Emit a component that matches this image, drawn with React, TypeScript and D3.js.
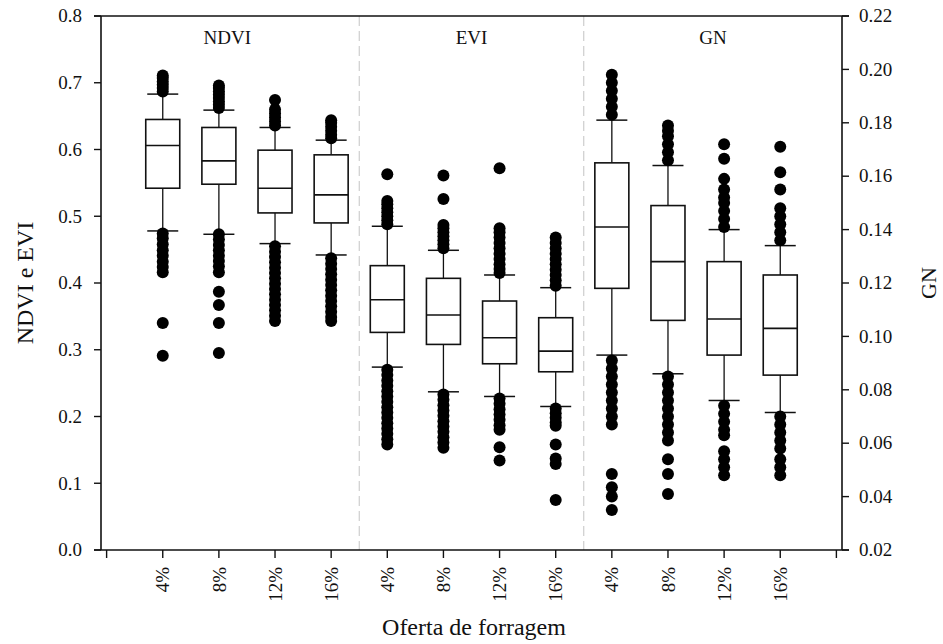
import React from "react";
import * as d3 from "d3";

// categories
const panels = ["NDVI", "EVI", "GN"];
const offers = ["4%", "8%", "12%", "16%"];
const leftTicks = [0, 0.1, 0.2, 0.3, 0.4, 0.5, 0.6, 0.7, 0.8];
const rightTicks = [0.02, 0.04, 0.06, 0.08, 0.1, 0.12, 0.14, 0.16, 0.18, 0.2, 0.22];

// [lower whisker, Q1, median, Q3, upper whisker] per offer
const ndviBox = [
  [0.478, 0.542, 0.606, 0.645, 0.683],
  [0.473, 0.548, 0.583, 0.633, 0.659],
  [0.459, 0.505, 0.542, 0.599, 0.633],
  [0.442, 0.49, 0.532, 0.592, 0.614],
];
const eviBox = [
  [0.274, 0.326, 0.375, 0.426, 0.485],
  [0.237, 0.308, 0.352, 0.407, 0.449],
  [0.23, 0.279, 0.318, 0.373, 0.412],
  [0.215, 0.267, 0.298, 0.348, 0.393],
];
const gnBox = [
  [0.093, 0.118, 0.141, 0.165, 0.181],
  [0.086, 0.106, 0.128, 0.149, 0.164],
  [0.076, 0.093, 0.1065, 0.128, 0.14],
  [0.0715, 0.0855, 0.103, 0.123, 0.134],
];

// outliers per offer
const ndviOut = [
  [0.687, 0.692, 0.697, 0.702, 0.707, 0.711, 0.474, 0.467, 0.458, 0.449, 0.441, 0.432, 0.424, 0.416, 0.34, 0.291],
  [0.662, 0.667, 0.672, 0.677, 0.682, 0.687, 0.692, 0.696, 0.473, 0.465, 0.457, 0.449, 0.441, 0.433, 0.425, 0.416, 0.387, 0.367, 0.34, 0.295],
  [0.636, 0.642, 0.648, 0.654, 0.66, 0.674, 0.455, 0.447, 0.439, 0.431, 0.423, 0.415, 0.407, 0.399, 0.391, 0.383, 0.375, 0.367, 0.359, 0.351, 0.343],
  [0.617, 0.622, 0.628, 0.634, 0.64, 0.644, 0.437, 0.429, 0.421, 0.413, 0.405, 0.397, 0.389, 0.381, 0.373, 0.365, 0.357, 0.349, 0.343],
];
const eviOut = [
  [0.488, 0.494, 0.5, 0.506, 0.512, 0.518, 0.523, 0.563, 0.27, 0.262, 0.254, 0.246, 0.238, 0.23, 0.222, 0.214, 0.206, 0.198, 0.19, 0.182, 0.174, 0.166, 0.158],
  [0.452, 0.458, 0.464, 0.47, 0.476, 0.482, 0.487, 0.526, 0.561, 0.233, 0.225, 0.217, 0.209, 0.201, 0.193, 0.185, 0.177, 0.169, 0.161, 0.153],
  [0.415, 0.421, 0.428, 0.436, 0.444, 0.452, 0.46, 0.468, 0.476, 0.482, 0.572, 0.227, 0.219, 0.211, 0.203, 0.195, 0.187, 0.18, 0.154, 0.134],
  [0.396, 0.404, 0.412, 0.42, 0.428, 0.436, 0.444, 0.452, 0.46, 0.468, 0.212, 0.205, 0.198, 0.191, 0.186, 0.158, 0.137, 0.129, 0.075],
];
const gnOut = [
  [0.183, 0.186, 0.189, 0.192, 0.195, 0.198, 0.091, 0.088, 0.085, 0.082, 0.079, 0.076, 0.073, 0.07, 0.067, 0.0485, 0.0435, 0.04, 0.035],
  [0.166, 0.169, 0.172, 0.175, 0.177, 0.179, 0.085, 0.082, 0.079, 0.076, 0.073, 0.07, 0.067, 0.064, 0.061, 0.054, 0.0485, 0.041],
  [0.141, 0.144, 0.147, 0.15, 0.152, 0.155, 0.159, 0.1665, 0.172, 0.074, 0.071, 0.068, 0.065, 0.063, 0.057, 0.054, 0.051, 0.048],
  [0.136, 0.139, 0.142, 0.145, 0.148, 0.155, 0.1615, 0.171, 0.07, 0.067, 0.064, 0.061, 0.058, 0.054, 0.051, 0.048],
];

const W = 943;
const H = 644;
const margin = { left: 101, right: 101, top: 16, bottom: 94 };
const serif = { fontFamily: "'Liberation Serif', 'Times New Roman', Times, serif" };

export default function App() {
  const x = d3.scaleLinear().domain([-0.1, 13.1]).range([margin.left, W - margin.right]);
  const yL = d3.scaleLinear().domain([0, 0.8]).range([H - margin.bottom, margin.top]);
  const yR = d3.scaleLinear().domain([0.02, 0.22]).range([H - margin.bottom, margin.top]);
  const y0 = H - margin.bottom;
  const x0 = margin.left;
  const x1 = W - margin.right;

  const groups = [
    { box: ndviBox, out: ndviOut, y: yL },
    { box: eviBox, out: eviOut, y: yL },
    { box: gnBox, out: gnOut, y: yR },
  ];

  const boxW = 34;
  const capW = 31;

  return (
    <div style={{ position: "absolute", left: 0, top: 0 }}>
      <svg width={W} height={H} style={{ display: "block", background: "#fff", ...serif }}>
        {/* separators */}
        {[4.5, 8.5].map((s) => (
          <line key={s} x1={x(s)} x2={x(s)} y1={yL(0.8)} y2={y0} stroke="#c4c4c4" strokeWidth={1} strokeDasharray="10,5" />
        ))}

        {/* panel labels */}
        {panels.map((p, g) => (
          <text key={p} x={x([2.15, 6.5, 10.8][g])} y={44} textAnchor="middle" fontSize={19} fill="#111" style={serif}>
            {p}
          </text>
        ))}

        {/* boxes */}
        {groups.map((grp, g) =>
          grp.box.map((b, i) => {
            const cx = x(g * 4 + i + 1);
            const [lo, q1, med, q3, hi] = b.map((v) => grp.y(v));
            return (
              <g key={`${g}-${i}`}>
                <line x1={cx} x2={cx} y1={q3} y2={hi} stroke="#111" strokeWidth={1.3} />
                <line x1={cx} x2={cx} y1={q1} y2={lo} stroke="#111" strokeWidth={1.3} />
                <line x1={cx - capW / 2} x2={cx + capW / 2} y1={hi} y2={hi} stroke="#111" strokeWidth={1.5} />
                <line x1={cx - capW / 2} x2={cx + capW / 2} y1={lo} y2={lo} stroke="#111" strokeWidth={1.5} />
                <rect x={cx - boxW / 2} y={q3} width={boxW} height={q1 - q3} fill="#fff" stroke="#111" strokeWidth={1.6} />
                <line x1={cx - boxW / 2} x2={cx + boxW / 2} y1={med} y2={med} stroke="#111" strokeWidth={1.6} />
                {grp.out[i].map((v, k) => (
                  <circle key={k} cx={cx} cy={grp.y(v)} r={6} fill="#000" />
                ))}
              </g>
            );
          })
        )}

        {/* frame */}
        <line x1={x0 - 7} x2={x1 + 7} y1={margin.top} y2={margin.top} stroke="#111" strokeWidth={1.6} />
        <line x1={x0 - 7} x2={x1 + 7} y1={y0} y2={y0} stroke="#111" strokeWidth={1.6} />
        <line x1={x0} x2={x0} y1={margin.top} y2={y0} stroke="#111" strokeWidth={1.6} />
        <line x1={x1} x2={x1} y1={margin.top} y2={y0} stroke="#111" strokeWidth={1.6} />

        {/* left axis */}
        {leftTicks.map((t) => (
          <g key={t}>
            <line x1={x0 - 7} x2={x0} y1={yL(t)} y2={yL(t)} stroke="#111" strokeWidth={1.4} />
            <text x={x0 - 19} y={yL(t)} dy="0.33em" textAnchor="end" fontSize={19} fill="#111" style={serif}>
              {d3.format(".1f")(t)}
            </text>
          </g>
        ))}

        {/* right axis */}
        {rightTicks.map((t) => (
          <g key={t}>
            <line x1={x1} x2={x1 + 7} y1={yR(t)} y2={yR(t)} stroke="#111" strokeWidth={1.4} />
            <text x={x1 + 17} y={yR(t)} dy="0.33em" textAnchor="start" fontSize={19} fill="#111" style={serif}>
              {d3.format(".2f")(t)}
            </text>
          </g>
        ))}

        {/* bottom axis */}
        {d3.range(14).map((k) => (
          <line key={k} x1={x(k)} x2={x(k)} y1={y0} y2={y0 + 8} stroke="#111" strokeWidth={1.4} />
        ))}
        {panels.map((p, g) =>
          offers.map((o, i) => {
            const cx = x(g * 4 + i + 1);
            return (
              <text
                key={`${p}-${o}`}
                transform={`translate(${cx},567) rotate(-90)`}
                dy="0.35em"
                textAnchor="end"
                fontSize={19}
                fill="#111"
                style={serif}
              >
                {o}
              </text>
            );
          })
        )}

        {/* axis titles */}
        <text x={474} y={635} textAnchor="middle" fontSize={24} fill="#111" style={serif}>
          Oferta de forragem
        </text>
        <text transform={`translate(33,283) rotate(-90)`} textAnchor="middle" fontSize={24} fill="#111" style={serif}>
          NDVI e EVI
        </text>
        <text transform={`translate(936,283) rotate(-90)`} textAnchor="middle" fontSize={22} fill="#111" style={serif}>
          GN
        </text>
      </svg>
    </div>
  );
}
